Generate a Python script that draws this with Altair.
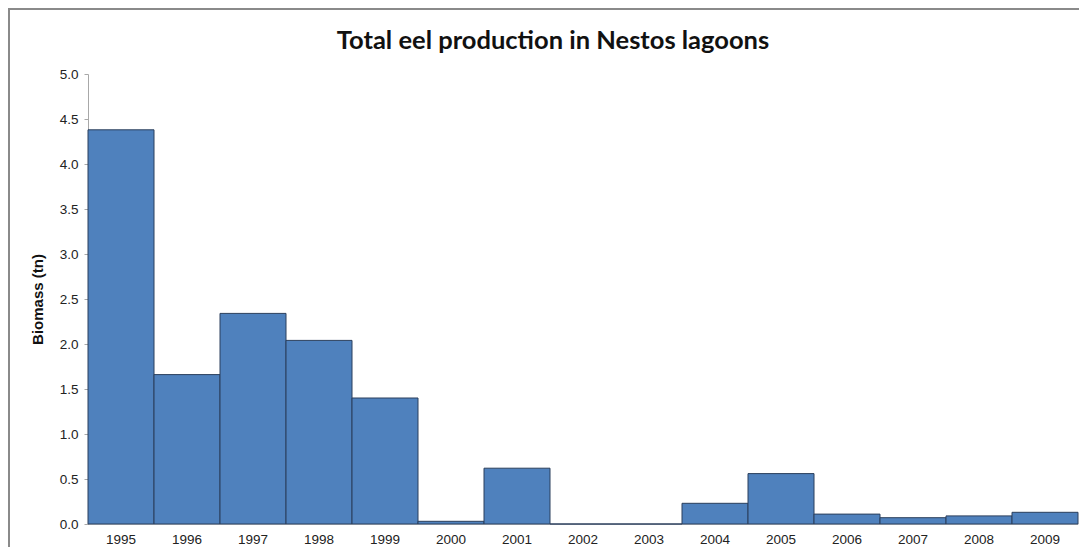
import altair as alt
import pandas as pd

years = [str(y) for y in range(1995, 2010)]
biomass = [4.38, 1.66, 2.34, 2.04, 1.40, 0.03, 0.62, 0.0, 0.0, 0.23, 0.56, 0.11, 0.07, 0.09, 0.13]

df = pd.DataFrame({"Year": years, "Biomass": biomass})

bars = alt.Chart(df).mark_bar(
    fill="#4f81bd", stroke="#2b3f5c", strokeWidth=1
).encode(
    x=alt.X("Year:N", sort=years, title=None,
            scale=alt.Scale(paddingInner=0, paddingOuter=0),
            axis=alt.Axis(labelAngle=0, ticks=False, domainColor="#d0d0d0",
                          labelFont="Liberation Sans", labelFontSize=13.5,
                          labelColor="#222222", labelPadding=8)),
    y=alt.Y("Biomass:Q", title="Biomass (tn)",
            scale=alt.Scale(domain=[0, 5]),
            axis=alt.Axis(values=[0, 0.5, 1, 1.5, 2, 2.5, 3, 3.5, 4, 4.5, 5],
                          format=".1f", grid=False, domainColor="#a8a8a8",
                          tickColor="#a8a8a8", tickSize=4,
                          labelFont="Liberation Sans", labelFontSize=13.5,
                          labelColor="#222222", labelPadding=6,
                          titleFont="Liberation Sans", titleFontSize=15,
                          titleFontWeight="bold", titleColor="#111111",
                          titlePadding=14)),
)

frame = alt.Chart(df).mark_rect(
    fill=None, stroke="#8a8a8a", strokeWidth=1.5
).encode(
    x=alt.value(-79), x2=alt.value(1020),
    y=alt.value(-65), y2=alt.value(600),
)

chart = alt.layer(frame, bars).properties(
    width=990, height=450,
    background="white",
    title=alt.TitleParams("Total eel production in Nestos lagoons",
                          font="Lato", fontSize=25.5, fontWeight="bold",
                          color="#111111", anchor="middle", offset=0,
                          baseline="bottom", dy=71, dx=-30),
    autosize=alt.AutoSizeParams(type="none"),
    padding={"left": 80, "top": 66, "right": 1, "bottom": 23},
).configure_view(strokeWidth=0, stroke="transparent")

chart.save("out.html", embed_options={"renderer": "svg", "actions": False})
